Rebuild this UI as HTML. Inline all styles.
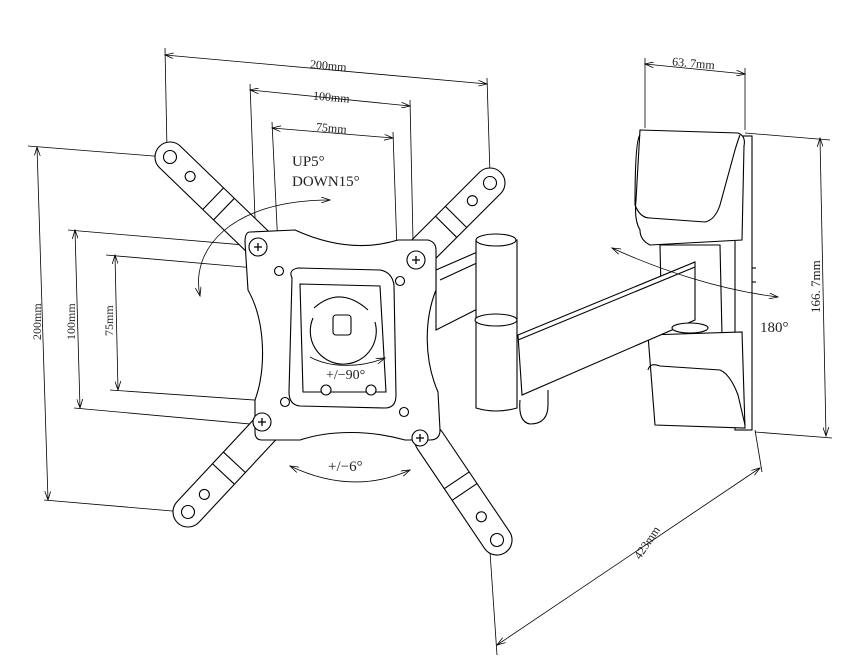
<!DOCTYPE html>
<html><head><meta charset="utf-8"><style>
html,body{margin:0;padding:0;background:#fff}
svg{display:block}
text{font-family:"Liberation Serif",serif;fill:#222}
</style></head><body>
<svg width="846" height="672" viewBox="0 0 846 672" xmlns="http://www.w3.org/2000/svg">
<defs>
<marker id="a" markerWidth="10" markerHeight="6" refX="9" refY="3" orient="auto-start-reverse" markerUnits="userSpaceOnUse"><path d="M0,0 L9,3 L0,6" fill="none" stroke="#000" stroke-width="0.8"/></marker>
</defs>
<g stroke="#000" stroke-width="0.8" fill="none">
<line x1="165" y1="55" x2="487" y2="84" marker-start="url(#a)" marker-end="url(#a)"/>
<line x1="165" y1="48" x2="167" y2="150"/><line x1="487" y1="78" x2="490" y2="175"/>
<line x1="250" y1="90" x2="410" y2="106" marker-start="url(#a)" marker-end="url(#a)"/>
<line x1="250" y1="84" x2="256" y2="245"/><line x1="410" y1="100" x2="413" y2="240"/>
<line x1="272" y1="128" x2="393" y2="138" marker-start="url(#a)" marker-end="url(#a)"/>
<line x1="272" y1="122" x2="279" y2="268"/><line x1="393" y1="132" x2="398" y2="280"/>
<line x1="37" y1="147" x2="48" y2="500" marker-start="url(#a)" marker-end="url(#a)"/>
<line x1="28" y1="146" x2="166" y2="157"/><line x1="44" y1="500" x2="184" y2="512"/>
<line x1="75" y1="230" x2="80" y2="408" marker-start="url(#a)" marker-end="url(#a)"/>
<line x1="68" y1="230" x2="256" y2="246"/><line x1="74" y1="408" x2="272" y2="426"/>
<line x1="115" y1="255" x2="118" y2="390" marker-start="url(#a)" marker-end="url(#a)"/>
<line x1="106" y1="255" x2="278" y2="270"/><line x1="110" y1="390" x2="283" y2="402"/>
<line x1="645" y1="64" x2="745" y2="74" marker-start="url(#a)" marker-end="url(#a)"/>
<line x1="645" y1="58" x2="645" y2="128"/><line x1="745" y1="68" x2="745" y2="130"/>
<line x1="820" y1="138" x2="826" y2="436" marker-start="url(#a)" marker-end="url(#a)"/>
<line x1="745" y1="133" x2="830" y2="140"/><line x1="755" y1="432" x2="832" y2="438"/>
<line x1="497" y1="645" x2="760" y2="468" marker-start="url(#a)" marker-end="url(#a)"/>
<line x1="490" y1="552" x2="497" y2="655"/><line x1="755" y1="430" x2="762" y2="472"/>
</g>
<g stroke="#000" stroke-width="1.1" fill="#fff">
<!-- arms (under plate) -->
<g transform="translate(170,157) rotate(44)"><rect x="-15" y="-15" width="160" height="30" rx="15"/><line x1="60" y1="-15" x2="60" y2="15"/><line x1="75" y1="-15" x2="75" y2="15"/><circle cx="0" cy="0" r="6.5"/><circle cx="28" cy="0" r="5"/></g>
<g transform="translate(490,183) rotate(135)"><rect x="-15" y="-15" width="135" height="30" rx="15"/><line x1="48" y1="-15" x2="48" y2="15"/><line x1="62" y1="-15" x2="62" y2="15"/><circle cx="0" cy="0" r="6.5"/><circle cx="25" cy="0" r="5"/></g>
<g transform="translate(188,512) rotate(-47)"><rect x="-15" y="-15" width="145" height="30" rx="15"/><line x1="52" y1="-15" x2="52" y2="15"/><line x1="68" y1="-15" x2="68" y2="15"/><circle cx="0" cy="0" r="6.5"/><circle cx="24" cy="0" r="5"/></g>
<g transform="translate(497,540) rotate(-124)"><rect x="-15" y="-15" width="150" height="30" rx="15"/><line x1="58" y1="-15" x2="58" y2="15"/><line x1="72" y1="-15" x2="72" y2="15"/><circle cx="0" cy="0" r="6.5"/><circle cx="28" cy="0" r="5"/></g>
<!-- wall plate -->
<rect x="735" y="136" width="17" height="294"/>
<path d="M660,245 L720,245 L722,335 L662,335 Z"/>
<path d="M640,130 L738,133 Q746,136 744,146 L742,240 L650,245 Q640,240 640,230 Q634,220 636,200 Z"/>
<path d="M640,135 Q635,140 635,205 Q640,218 650,218 L705,222 Q715,220 720,205 L735,150 Q738,140 740,135" fill="none"/>
<path d="M648,335 L742,332 L745,428 L655,425 Z"/>
<path d="M648,370 Q650,362 660,366 L720,370 Q730,374 738,395 L745,425" fill="none"/>
<line x1="752" y1="268" x2="756" y2="268"/><line x1="752" y1="282" x2="756" y2="282"/>
<!-- upper arm -->
<path d="M436,270 L505,240 L505,295 L436,330 Z"/>
<line x1="440" y1="280" x2="505" y2="250"/>
<!-- second arm -->
<path d="M518,335 L695,262 L695,320 L522,395 Z"/>
<line x1="518" y1="340" x2="695" y2="267"/>
<ellipse cx="690" cy="328" rx="18" ry="5"/>
<path d="M520,400 Q518,422 530,424 Q548,424 548,405 L548,390"/>
<path d="M476,240 L476,408 Q496,414 517,408 L517,240 Z"/>
<ellipse cx="496" cy="240" rx="20" ry="6"/>
<ellipse cx="496" cy="320" rx="21" ry="6"/>
<!-- TV plate -->
<path d="M250,232 L295,230 C330,246 365,250 398,240 L428,240 Q436,242 436,250 L436,290 C424,320 424,360 438,392 L440,430 Q440,440 430,440 L405,440 C370,430 330,430 300,440 L262,440 Q255,440 255,432 L255,400 C266,370 266,322 248,290 L245,242 Q245,232 250,232 Z"/>
<path d="M292,278 Q288,270 298,268 L380,270 Q392,272 394,285 L396,395 Q396,408 385,408 L300,406 Q289,405 289,392 Z"/>
<path d="M300,284 L380,286 L386,392 L303,392 Z"/>
<path d="M313,318 A33,33 0 1 0 375,322"/>
<path d="M314,308 Q340,285 368,310" fill="none"/>
<rect x="333" y="315" width="18" height="20" rx="3"/>
<circle cx="326" cy="390" r="5"/><circle cx="371" cy="390" r="5"/>
<circle cx="258" cy="247" r="9"/><circle cx="416" cy="260" r="9"/>
<circle cx="262" cy="422" r="9"/><circle cx="420" cy="438" r="8"/>
<circle cx="279" cy="271" r="4.5"/><circle cx="400" cy="281" r="4.5"/>
<circle cx="285" cy="402" r="4.5"/><circle cx="404" cy="412" r="4.5"/>
</g>
<g stroke="#000" stroke-width="0.8" fill="none">
<path d="M200,296 C190,250 230,200 330,200" marker-start="url(#a)" marker-end="url(#a)"/>
<path d="M290,466 C330,485 370,488 410,470" marker-start="url(#a)" marker-end="url(#a)"/>
<path d="M310,357 C330,368 360,368 385,358" marker-end="url(#a)"/>
<path d="M612,248 C660,270 720,290 778,297" marker-start="url(#a)" marker-end="url(#a)"/>
</g>
<g stroke="#000" stroke-width="1.3">
<path d="M254,247 h8 M258,243 v8"/><path d="M412,260 h8 M416,256 v8"/>
<path d="M258,422 h8 M262,418 v8"/><path d="M416,438 h8 M420,434 v8"/>
</g>
<text x="310" y="69" font-size="12" transform="rotate(5 322 65)">200mm</text>
<text x="313" y="101" font-size="12" transform="rotate(5 330 97)">100mm</text>
<text x="316" y="132" font-size="12" transform="rotate(5 330 128)">75mm</text>
<text x="672" y="67" font-size="12" transform="rotate(5 690 65)">63. 7mm</text>
<text x="292" y="166" font-size="15">UP5°</text>
<text x="292" y="186" font-size="15">DOWN15°</text>
<text x="326" y="379" font-size="14">+/−90°</text>
<text x="328" y="471" font-size="15">+/−6°</text>
<text x="760" y="332" font-size="15">180°</text>
<text font-size="12" transform="translate(41,340) rotate(-90)">200mm</text>
<text font-size="12" transform="translate(75,340) rotate(-90)">100mm</text>
<text font-size="12" transform="translate(113,336) rotate(-90)">75mm</text>
<text font-size="13" transform="translate(820,313) rotate(-90)">166. 7mm</text>
<text font-size="12" transform="translate(640,560) rotate(-56)">423mm</text>
</svg>
</body></html>
